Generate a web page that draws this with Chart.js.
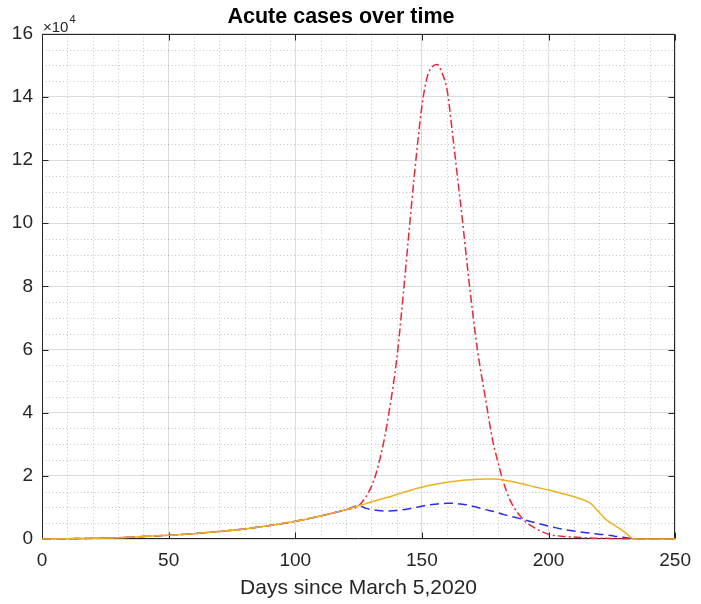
<!DOCTYPE html>
<html>
<head>
<meta charset="utf-8">
<script src="https://cdn.jsdelivr.net/npm/chart.js@4.4.1/dist/chart.umd.min.js"></script>
<style>
  html, body { margin: 0; padding: 0; background: #ffffff; }
  #wrap { width: 701px; height: 604px; }
</style>
</head>
<body>
<div id="wrap"><canvas id="c" width="701" height="604"></canvas></div>
<script>
// Days since March 5, 2020
const days = [0, 10, 20, 30, 40, 50, 60, 70, 80, 90, 100, 110, 120,
  125, 128, 130, 132, 135, 137, 140, 142, 145, 147, 150,
  152, 154, 156, 158, 160, 162, 164, 166, 168, 170, 172,
  175, 178, 180, 182, 185, 190, 195, 200, 205, 210, 215, 217,
  220, 223, 226, 230, 234, 240, 250];

// Acute cases, solid orange curve
const solidCases = [0, 100, 200, 400, 800, 1200, 1700, 2400, 3200, 4300, 5600, 7300, 9300,
  10500, 11200, 11700, 12200, 12900, 13300, 14100, 14600, 15300, 15800, 16400,
  16800, 17100, 17400, 17700, 18000, 18200, 18400, 18600, 18700, 18800, 18900,
  19000, 19000, 18900, 18700, 18300, 17400, 16400, 15500, 14500, 13400, 12000, 11000,
  8500, 6000, 4400, 2200, 0, 0, 0];

// Acute cases, red dash-dot curve
const dashDotCases = [0, 100, 200, 400, 800, 1200, 1700, 2400, 3200, 4300, 5600, 7300, 9300,
  10500, 13500, 16500, 21000, 31000, 40000, 56500, 72000, 98000, 115000, 137000,
  146000, 149500, 150300, 147500, 142000, 129000, 115000, 101000, 86000, 72000, 59500,
  45000, 31000, 24500, 18500, 12000, 6200, 3300, 1500, 900, 600, 400, 300,
  200, 200, 100, 100, 0, 0, 0];

// Acute cases, blue dashed curve
const dashedCases = [0, 100, 200, 400, 800, 1200, 1700, 2400, 3200, 4300, 5600, 7300, 9300,
  10500, 9700, 9300, 9100, 8900, 8900, 9000, 9200, 9600, 9900, 10400,
  10700, 10900, 11100, 11200, 11300, 11300, 11200, 11000, 10800, 10400, 10000,
  9300, 8800, 8300, 7800, 7200, 6200, 5100, 4100, 3200, 2500, 2000, 1800,
  1500, 1300, 900, 500, 100, 0, 0];

const xTickValues = [0, 50, 100, 150, 200, 250];
const yTickValues = [0, 20000, 40000, 60000, 80000, 100000, 120000, 140000, 160000];
const xMinorStep = 10;
const yMinorStep = 5000;
const yExponent = 4;

const FONT = '"Liberation Sans", Arial, Helvetica, sans-serif';
const TEXT = '#262626';

function pts(vals) { return days.map((d, i) => ({ x: d, y: vals[i] })); }

// Dotted minor grid, boxed axes with inward ticks, and the axis exponent
const boxedAxes = {
  id: 'boxedAxes',
  beforeDatasetsDraw(chart) {
    const { ctx, chartArea: a, scales: { x, y } } = chart;
    ctx.save();
    ctx.strokeStyle = 'rgba(90,90,90,0.35)';
    ctx.lineWidth = 1;
    ctx.setLineDash([1, 2.5]);
    ctx.beginPath();
    for (let d = x.min; d <= x.max; d += xMinorStep) {
      if (xTickValues.includes(d)) continue;
      const px = Math.round(x.getPixelForValue(d)) + 0.5;
      ctx.moveTo(px, a.top); ctx.lineTo(px, a.bottom);
    }
    for (let v = y.min; v <= y.max; v += yMinorStep) {
      if (yTickValues.includes(v)) continue;
      const py = Math.round(y.getPixelForValue(v)) + 0.5;
      ctx.moveTo(a.left, py); ctx.lineTo(a.right, py);
    }
    ctx.stroke();

    // axis box and inward ticks sit beneath the curves
    const L = Math.round(a.left) + 0.5, R = Math.round(a.right) - 0.5;
    const T = Math.round(a.top) + 0.5, B = Math.round(a.bottom) - 0.5;
    const tl = 6;
    ctx.strokeStyle = TEXT;
    ctx.setLineDash([]);
    ctx.beginPath();
    ctx.rect(L, T, R - L, B - T);
    xTickValues.forEach(d => {
      const px = Math.round(x.getPixelForValue(d)) + 0.5;
      ctx.moveTo(px, B); ctx.lineTo(px, B - tl);
      ctx.moveTo(px, T); ctx.lineTo(px, T + tl);
    });
    yTickValues.forEach(v => {
      const py = Math.round(y.getPixelForValue(v)) + 0.5;
      ctx.moveTo(L, py); ctx.lineTo(L + tl, py);
      ctx.moveTo(R, py); ctx.lineTo(R - tl, py);
    });
    ctx.stroke();

    // ×10^4 above the y axis
    ctx.fillStyle = TEXT;
    ctx.textBaseline = 'alphabetic';
    ctx.textAlign = 'left';
    ctx.font = '15px ' + FONT;
    const base = '\u00d710';
    ctx.fillText(base, a.left + 1, a.top - 2);
    const w = ctx.measureText(base).width;
    ctx.font = '11px ' + FONT;
    ctx.fillText(String(yExponent), a.left + 2 + w, a.top - 11);
    ctx.restore();
  }
};

const lineBase = { pointRadius: 0, borderWidth: 1.5, cubicInterpolationMode: 'monotone', fill: false, clip: false };

new Chart(document.getElementById('c'), {
  type: 'line',
  data: {
    datasets: [
      Object.assign({ label: 'solid', data: pts(solidCases), borderColor: '#EDB120' }, lineBase),
      Object.assign({ label: 'dash-dot', data: pts(dashDotCases), borderColor: '#E8283A', borderDash: [8, 3, 2, 3] }, lineBase),
      Object.assign({ label: 'dashed', data: pts(dashedCases), borderColor: '#2B2BEE', borderDash: [9, 5] }, lineBase)
    ]
  },
  options: {
    responsive: false,
    animation: false,
    devicePixelRatio: 1,
    layout: { padding: { left: 0, right: 19, top: 0, bottom: 0 } },
    plugins: {
      legend: { display: false },
      tooltip: { enabled: false },
      title: {
        display: true,
        text: 'Acute cases over time',
        color: '#000000',
        font: { family: FONT, size: 21.5, weight: 'bold' },
        padding: { top: 4, bottom: 4 }
      }
    },
    scales: {
      x: {
        type: 'linear',
        min: 0,
        max: 250,
        afterBuildTicks(scale) { scale.ticks = xTickValues.map(v => ({ value: v })); },
        afterFit(scale) { scale.height = 65; },
        ticks: {
          color: TEXT,
          font: { family: FONT, size: 19 },
          padding: 10,
          maxRotation: 0
        },
        grid: { color: '#dcdcdc', lineWidth: 1, drawTicks: false },
        border: { display: false },
        title: {
          display: true,
          text: 'Days since March 5,2020',
          color: TEXT,
          font: { family: FONT, size: 21 },
          padding: { top: 0, bottom: 3 }
        }
      },
      y: {
        type: 'linear',
        min: 0,
        max: 160000,
        afterBuildTicks(scale) { scale.ticks = yTickValues.map(v => ({ value: v })); },
        afterFit(scale) { scale.width = 42; },
        ticks: {
          color: TEXT,
          font: { family: FONT, size: 19 },
          padding: 9,
          callback: v => String(v / Math.pow(10, yExponent))
        },
        grid: { color: '#dcdcdc', lineWidth: 1, drawTicks: false },
        border: { display: false }
      }
    }
  },
  plugins: [boxedAxes]
});
</script>
</body>
</html>
